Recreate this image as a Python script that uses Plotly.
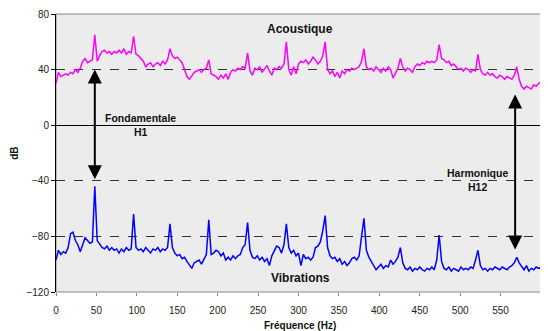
import plotly.graph_objects as go

# Frequency grid (Hz), 3 Hz steps from 0 to 600
freq = list(range(0, 601, 3))

# Acoustic spectrum (dB)
acoustique = [
    30, 38, 35, 36, 37, 36, 38, 37, 40, 38,
    41, 46, 48, 45, 46, 47, 65, 46, 50, 53,
    54, 52, 53, 51, 53, 52, 54, 52, 55, 51,
    53, 52, 64, 51, 50, 48, 46, 42, 44, 45,
    42, 44, 45, 43, 46, 44, 47, 55, 50, 48,
    49, 47, 45, 40, 35, 33, 36, 38, 39, 40,
    38, 40, 41, 47, 37, 36, 35, 33, 36, 34,
    37, 33, 38, 40, 39, 41, 40, 42, 41, 52,
    39, 36, 41, 40, 42, 38, 41, 43, 39, 36,
    41, 40, 42, 41, 44, 60, 40, 36, 42, 37,
    44, 46, 45, 47, 44, 46, 49, 47, 44, 46,
    50, 60, 40, 37, 39, 35, 38, 34, 39, 37,
    40, 39, 41, 40, 41, 42, 46, 55, 42, 40,
    41, 39, 42, 40, 38, 41, 39, 42, 40, 34,
    38, 41, 48, 42, 39, 41, 40, 38, 42, 44,
    43, 45, 44, 46, 45, 46, 45, 47, 58, 48,
    47, 45, 46, 43, 44, 42, 40, 41, 39, 41,
    40, 38, 40, 39, 51, 40, 37, 36, 38, 36,
    37, 35, 34, 36, 35, 33, 35, 34, 33, 36,
    42, 33, 28, 26, 28, 27, 26, 29, 28, 30,
    31,
]

# Vibration spectrum (dB)
vibrations = [
    -97, -90, -93, -91, -92, -88, -78, -77, -83, -86,
    -91, -86, -81, -83, -85, -84, -44, -83, -86, -88,
    -89, -87, -90, -88, -90, -89, -92, -89, -91, -88,
    -90, -89, -64, -88, -90, -89, -91, -88, -90, -92,
    -89, -90, -88, -91, -89, -90, -88, -71, -88, -92,
    -94, -93, -96, -95, -98, -101, -103, -99, -98, -97,
    -100, -96, -93, -68, -93, -92, -90, -91, -94, -92,
    -97, -95, -97, -94, -96, -94, -93, -88, -86, -70,
    -90, -95, -96, -94, -97, -95, -98, -96, -101, -94,
    -90, -87, -88, -92, -86, -71, -88, -92, -90, -94,
    -92, -101, -93, -96, -95, -97, -95, -88, -87, -84,
    -76, -65, -88, -94, -96, -95, -98, -96, -100, -98,
    -101, -99, -96, -95, -97, -94, -80, -67, -90, -95,
    -98, -101, -104, -102, -100, -103, -101, -102, -97, -100,
    -98, -95, -88, -99, -103, -104, -102, -105, -103, -104,
    -102, -104, -105, -103, -104, -102, -104, -97, -79, -98,
    -103, -104, -102, -105, -103, -104, -105, -102, -104, -103,
    -104, -102, -103, -97, -90, -101, -104, -103, -105, -103,
    -104, -102, -103, -104, -102, -103, -104, -102, -101, -99,
    -95, -99, -102, -104, -101, -105, -103, -104, -102, -103,
    -102,
]

x_ticks = [0, 50, 100, 150, 200, 250, 300, 350, 400, 450, 500, 550, 600]
y_ticks = [-120, -80, -40, 0, 40, 80]

FONT = "Arial, Liberation Sans, sans-serif"

fig = go.Figure()
fig.add_trace(go.Scatter(x=freq, y=acoustique, mode="lines",
                         line=dict(color="#FF00FF", width=1.5), name="Acoustique"))
fig.add_trace(go.Scatter(x=freq, y=vibrations, mode="lines",
                         line=dict(color="#0000FF", width=1.5), name="Vibrations"))

# border of the plot area
fig.add_shape(type="rect", xref="paper", yref="paper", x0=0, y0=0, x1=1, y1=1,
              line=dict(color="#888888", width=1), layer="below")

txt = dict(family=FONT, size=12, color="#111111")
small = dict(family=FONT, size=10.5, color="#111111")
fig.add_annotation(x=302, y=69, text="<b>Acoustique</b>", showarrow=False, font=txt)
fig.add_annotation(x=302, y=-110, text="<b>Vibrations</b>", showarrow=False, font=txt)
fig.add_annotation(x=104, y=0.5, text="<b>Fondamentale<br>H1</b>", showarrow=False,
                   font=small)
fig.add_annotation(x=522, y=-39.5, text="<b>Harmonique<br>H12</b>", showarrow=False,
                   font=small)

# axis titles
fig.add_annotation(x=-0.087, y=0.5, xref="paper", yref="paper", text="<b>dB</b>",
                   textangle=-90, showarrow=False, xanchor="center", yanchor="middle",
                   font=dict(family=FONT, size=10, color="#111111"))
fig.add_annotation(x=0.503, y=-0.119, xref="paper", yref="paper",
                   text="<b>Fréquence (Hz)</b>", showarrow=False,
                   xanchor="center", yanchor="middle",
                   font=dict(family=FONT, size=10, color="#111111"))

# double-headed arrows
for xa, ytop, ybot in [(48, 40, -40), (568, 22, -90.5)]:
    fig.add_annotation(x=xa, y=ytop, ax=xa, ay=ybot, xref="x", yref="y",
                       axref="x", ayref="y", text="", showarrow=True,
                       arrowhead=2, arrowsize=1.4, arrowwidth=2,
                       arrowside="end+start", arrowcolor="black")

# page body has an 8 px margin, so the figure is offset by 8 px
fig.update_layout(
    width=540, height=323,
    margin=dict(l=48, r=7, t=6, b=39, autoexpand=False),
    paper_bgcolor="white",
    plot_bgcolor="#ECECEC",
    showlegend=False,
    font=dict(family=FONT, size=10, color="#222222"),
)
fig.update_xaxes(range=[0, 600], tickvals=x_ticks, showgrid=False, zeroline=False,
                 ticks="outside", ticklen=3, tickcolor="#888888",
                 showline=False, automargin=False, ticklabelstandoff=6,
                 tickfont=dict(family=FONT, size=10, color="#222222"))
fig.update_yaxes(range=[-120, 80], tickvals=y_ticks, showgrid=True,
                 gridcolor="#333333", griddash="dash", gridwidth=1,
                 zeroline=True, zerolinecolor="black", zerolinewidth=1,
                 showline=True, linecolor="black", linewidth=1,
                 ticks="outside", ticklen=4, tickcolor="black", automargin=False,
                 tickfont=dict(family=FONT, size=10, color="#222222"))

fig.write_html("out.html")
